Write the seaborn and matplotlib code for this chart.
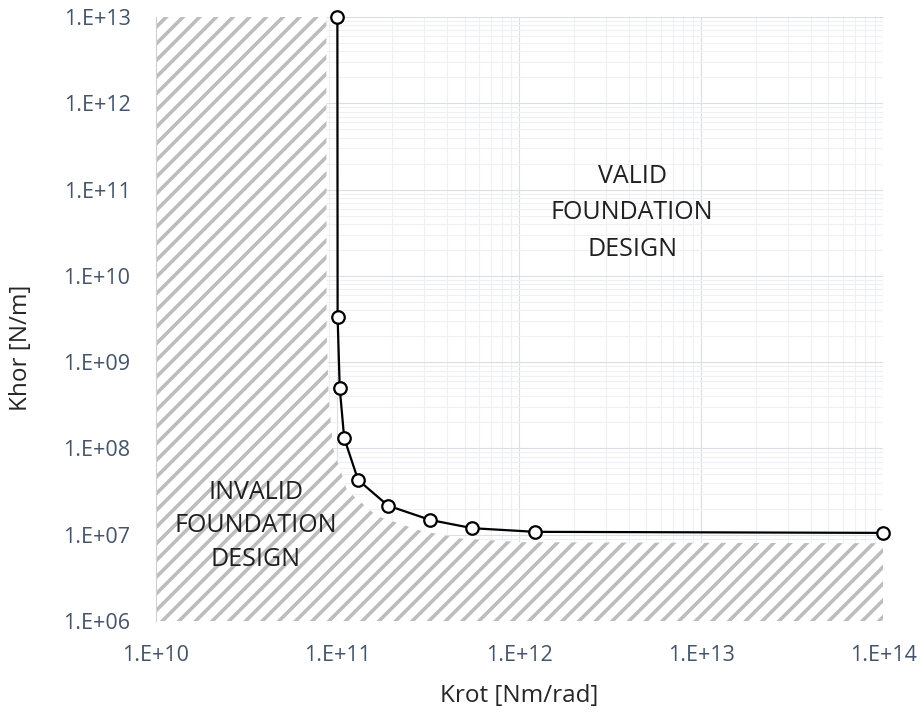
import numpy as np
import pandas as pd
import matplotlib
matplotlib.use("Agg")
import matplotlib.pyplot as plt
from matplotlib.ticker import FixedLocator, FixedFormatter, LogLocator, NullFormatter
import seaborn as sns

# Stiffness boundary: rotational vs. horizontal foundation stiffness
krot = [1.0e11, 1.003e11, 1.03e11, 1.09e11, 1.30e11, 1.90e11, 3.25e11, 5.53e11, 1.22e12, 1.0e14]
khor = [1.0e13, 3.34e9, 5.06e8, 1.32e8, 4.31e7, 2.17e7, 1.48e7, 1.19e7, 1.08e7, 1.05e7]

x_ticks = [1e10, 1e11, 1e12, 1e13, 1e14]
x_tick_labels = ["1.E+10", "1.E+11", "1.E+12", "1.E+13", "1.E+14"]
y_ticks = [1e6, 1e7, 1e8, 1e9, 1e10, 1e11, 1e12, 1e13]
y_tick_labels = ["1.E+06", "1.E+07", "1.E+08", "1.E+09", "1.E+10", "1.E+11", "1.E+12", "1.E+13"]

sns.set_theme(style="white")
plt.rcParams["font.family"] = ["Open Sans", "DejaVu Sans"]
plt.rcParams["hatch.linewidth"] = 2.6

W, H = 924, 713
fig = plt.figure(figsize=(W / 100, H / 100), dpi=100)
left, right, top, bottom = 155.5, 883, 17, 621
ax = fig.add_axes([left / W, 1 - bottom / H, (right - left) / W, (bottom - top) / H])
ax.set_xscale("log")
ax.set_yscale("log")
ax.set_xlim(x_ticks[0], x_ticks[-1])
ax.set_ylim(y_ticks[0], y_ticks[-1])

# Hatched "invalid" zone, kept a little clear of the boundary curve
gx, gy = 1.15, 1.32
hx = [x_ticks[0], x_ticks[0], krot[0] / gx] + [k / gx for k in krot[1:-1]] + [x_ticks[-1], x_ticks[-1]]
hy = [y_ticks[0], y_ticks[-1], y_ticks[-1]] + [k / gy for k in khor[1:-1]] + [khor[-1] / gy, y_ticks[0]]
ax.fill(hx, hy, facecolor="white", edgecolor="#bdbdbd", hatch="//", linewidth=0, zorder=1)

df = pd.DataFrame({"Krot": krot, "Khor": khor})
sns.lineplot(data=df, x="Krot", y="Khor", sort=False, estimator=None, ax=ax,
             color="black", linewidth=1.6, marker="o", markersize=9,
             markerfacecolor="white", markeredgecolor="black", markeredgewidth=1.6,
             clip_on=False, zorder=4)

# Grid
ax.set_axisbelow(True)
ax.xaxis.set_major_locator(FixedLocator(x_ticks))
ax.xaxis.set_major_formatter(FixedFormatter(x_tick_labels))
ax.yaxis.set_major_locator(FixedLocator(y_ticks))
ax.yaxis.set_major_formatter(FixedFormatter(y_tick_labels))
ax.xaxis.set_minor_locator(LogLocator(base=10, subs=np.arange(2, 10), numticks=100))
ax.yaxis.set_minor_locator(LogLocator(base=10, subs=np.arange(2, 10), numticks=100))
ax.xaxis.set_minor_formatter(NullFormatter())
ax.yaxis.set_minor_formatter(NullFormatter())
ax.grid(which="major", color="#d9dee7", linewidth=0.8, zorder=0)
ax.grid(which="minor", color="#eef0f4", linewidth=0.75, zorder=0)

ax.tick_params(which="both", length=0)
ax.tick_params(axis="x", pad=17, labelsize=15.5, labelcolor="#44546a")
ax.tick_params(axis="y", pad=18, labelsize=15.5, labelcolor="#44546a")

for s in ["top", "right", "bottom"]:
    ax.spines[s].set_visible(False)
ax.spines["left"].set_color("#c9d1dd")
ax.spines["left"].set_linewidth(0.8)

ax.set_xlabel("Krot [Nm/rad]", fontsize=17.5, color="#262626")
ax.set_ylabel("Khor [N/m]", fontsize=17.5, color="#262626")
ax.xaxis.set_label_coords(0.5, -0.104)
ax.yaxis.set_label_coords(-0.168, 0.453)

ax.text(0.655, 0.676, "VALID\nFOUNDATION\nDESIGN", transform=ax.transAxes,
        ha="center", va="center", fontsize=18, color="#1f1f1f", linespacing=1.6, zorder=5)
ax.text(0.138, 0.158, "INVALID\nFOUNDATION\nDESIGN", transform=ax.transAxes,
        ha="center", va="center", fontsize=18, color="#1f1f1f", linespacing=1.45, zorder=5)

fig.savefig("out.png", dpi=100)
